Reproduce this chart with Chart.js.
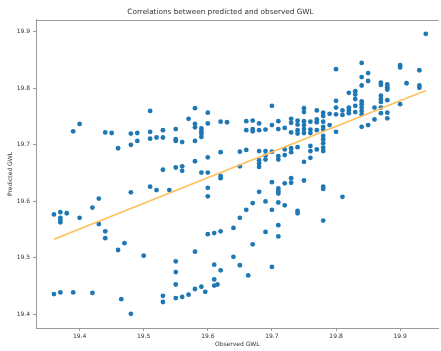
<!DOCTYPE html>
<html>
<head>
<meta charset="utf-8">
<title>Correlations between predicted and observed GWL</title>
<script src="https://cdn.jsdelivr.net/npm/chart.js@4.4.1/dist/chart.umd.min.js"></script>
<style>
  body { margin: 0; background: #fff; }
  #wrap { width: 441px; height: 351px; }
</style>
</head>
<body>
<div id="wrap"><canvas id="gwlChart" width="441" height="351"></canvas></div>
<script>
// observed GWL (x) and predicted GWL (y)
const observed = [
  19.36, 19.37, 19.37, 19.37, 19.37, 19.38, 19.40, 19.36, 19.37, 19.39, 19.42,
  19.39, 19.40, 19.42, 19.43, 19.43, 19.44, 19.44, 19.46, 19.47, 19.50, 19.465, 19.48,
  19.44, 19.45, 19.46, 19.48, 19.49, 19.48, 19.49, 19.48,
  19.51, 19.51, 19.51, 19.52, 19.53, 19.53, 19.51, 19.52, 19.54, 19.53,
  19.55, 19.55, 19.55, 19.56, 19.55, 19.56, 19.56, 19.57,
  19.58, 19.58, 19.58, 19.58, 19.58, 19.59, 19.59, 19.59, 19.59,
  19.60, 19.60, 19.60, 19.59, 19.60, 19.62, 19.63, 19.62, 19.62, 19.62, 19.60, 19.60,
  19.53, 19.53, 19.55, 19.55, 19.55, 19.55, 19.56, 19.57, 19.58, 19.59, 19.596,
  19.58, 19.60, 19.61, 19.62, 19.61, 19.62, 19.61, 19.61, 19.615,
  19.64, 19.65, 19.64, 19.65, 19.663, 19.67, 19.66, 19.67, 19.69, 19.71, 19.72, 19.70,
  19.74, 19.74, 19.69, 19.71, 19.71, 19.70, 19.78,
  19.65, 19.65, 19.66, 19.68, 19.68, 19.68, 19.68, 19.69, 19.69, 19.69, 19.70,
  19.71, 19.71, 19.72, 19.72, 19.73, 19.73, 19.74, 19.75, 19.76, 19.76, 19.76, 19.77,
  19.78, 19.78, 19.78, 19.78, 19.78,
  19.66, 19.67, 19.67, 19.67, 19.66, 19.68, 19.68, 19.69, 19.70, 19.71, 19.71, 19.72,
  19.73, 19.73, 19.74, 19.74, 19.75, 19.75, 19.76, 19.77, 19.77,
  19.78, 19.78, 19.78, 19.78, 19.78, 19.79, 19.79, 19.80,
  19.73, 19.74, 19.74, 19.75, 19.75, 19.76, 19.76, 19.77, 19.75, 19.75, 19.70, 19.77,
  19.94, 19.84, 19.80, 19.90, 19.90, 19.93, 19.84, 19.85, 19.85, 19.84,
  19.87, 19.87, 19.88, 19.88, 19.88, 19.91, 19.93, 19.93,
  19.82, 19.83, 19.83, 19.83, 19.84, 19.84, 19.84, 19.84, 19.84,
  19.87, 19.87, 19.87, 19.88, 19.90, 19.80, 19.83, 19.86, 19.87, 19.83,
  19.82, 19.82, 19.82, 19.81, 19.81, 19.80, 19.80,
  19.87, 19.88, 19.88, 19.86, 19.85, 19.84,
  19.70, 19.72, 19.73, 19.73, 19.75, 19.78, 19.78, 19.81, 19.68, 19.71, 19.71, 19.71
];
const predicted = [
  19.577, 19.581, 19.571, 19.567, 19.563, 19.579, 19.571, 19.436, 19.439, 19.439, 19.438,
  19.724, 19.737, 19.589, 19.605, 19.560, 19.547, 19.535, 19.514, 19.526, 19.504, 19.427, 19.401,
  19.722, 19.721, 19.694, 19.720, 19.721, 19.700, 19.707, 19.616,
  19.760, 19.723, 19.711, 19.713, 19.713, 19.726, 19.626, 19.620, 19.620, 19.656,
  19.728, 19.710, 19.707, 19.705, 19.660, 19.662, 19.654, 19.746,
  19.765, 19.737, 19.731, 19.707, 19.671, 19.729, 19.724, 19.720, 19.714,
  19.757, 19.738, 19.678, 19.651, 19.651, 19.741, 19.740, 19.687, 19.645, 19.641, 19.624, 19.609,
  19.433, 19.422, 19.494, 19.475, 19.453, 19.429, 19.431, 19.435, 19.445, 19.449, 19.440,
  19.511, 19.542, 19.544, 19.547, 19.488, 19.478, 19.462, 19.451, 19.453,
  19.553, 19.571, 19.502, 19.487, 19.469, 19.524, 19.585, 19.597, 19.600, 19.598, 19.593, 19.585,
  19.583, 19.579, 19.546, 19.558, 19.538, 19.484, 19.566,
  19.688, 19.662, 19.691, 19.689, 19.673, 19.667, 19.661, 19.689, 19.681, 19.674, 19.688,
  19.680, 19.674, 19.692, 19.682, 19.694, 19.687, 19.696, 19.670, 19.698, 19.689, 19.677, 19.692,
  19.716, 19.710, 19.703, 19.695, 19.689,
  19.742, 19.743, 19.728, 19.724, 19.726, 19.738, 19.726, 19.727, 19.735, 19.742, 19.728, 19.730,
  19.746, 19.739, 19.743, 19.736, 19.742, 19.735, 19.741, 19.745, 19.726,
  19.757, 19.751, 19.741, 19.732, 19.727, 19.735, 19.755, 19.723,
  19.722, 19.726, 19.720, 19.728, 19.721, 19.727, 19.721, 19.761, 19.765, 19.758, 19.769, 19.740,
  19.8965, 19.845, 19.834, 19.841, 19.837, 19.832, 19.820, 19.827, 19.813, 19.805,
  19.810, 19.806, 19.807, 19.802, 19.798, 19.809, 19.805, 19.801,
  19.792, 19.795, 19.789, 19.781, 19.777, 19.772, 19.766, 19.760, 19.754,
  19.787, 19.781, 19.776, 19.779, 19.772, 19.778, 19.769, 19.766, 19.766, 19.758,
  19.766, 19.761, 19.756, 19.761, 19.753, 19.766, 19.754,
  19.756, 19.757, 19.747, 19.745, 19.735, 19.732,
  19.634, 19.632, 19.641, 19.633, 19.637, 19.626, 19.622, 19.608, 19.617, 19.623, 19.618, 19.614
];

// fitted line end points
const fitX = [19.36, 19.94];
const fitY = [19.533, 19.796];

const xTicks = [19.4, 19.5, 19.6, 19.7, 19.8, 19.9];
const yTicks = [19.4, 19.5, 19.6, 19.7, 19.8, 19.9];

const textColor = '#333';
const axisColor = '#999';
const fontFamily = "'DejaVu Sans', sans-serif";

// top spine (matplotlib box)
const frameBox = {
  id: 'frameBox',
  afterDraw(chart) {
    const { ctx, chartArea } = chart;
    ctx.save();
    ctx.strokeStyle = axisColor;
    ctx.lineWidth = 1;
    ctx.beginPath();
    ctx.moveTo(chartArea.left, chartArea.top + 0.5);
    ctx.lineTo(chartArea.right, chartArea.top + 0.5);
    ctx.stroke();
    ctx.restore();
  }
};

const points = observed.map((x, i) => ({ x: x, y: predicted[i] }));
const fitLine = fitX.map((x, i) => ({ x: x, y: fitY[i] }));

const ctx = document.getElementById('gwlChart').getContext('2d');
const gwlChart = new Chart(ctx, {
  type: 'scatter',
  data: {
    datasets: [
      {
        label: 'fit',
        type: 'line',
        data: fitLine,
        borderColor: '#ffbf5a',
        borderWidth: 1.6,
        pointRadius: 0,
        fill: false,
        order: 1
      },
      {
        label: 'GWL',
        data: points,
        backgroundColor: '#1f77b4',
        borderWidth: 0,
        pointRadius: 2.4,
        pointHoverRadius: 2.4,
        order: 2
      }
    ]
  },
  plugins: [frameBox],
  options: {
    responsive: false,
    animation: false,
    events: [],
    layout: { padding: 0 },
    plugins: {
      legend: { display: false },
      tooltip: { enabled: false },
      title: {
        display: true,
        text: 'Correlations between predicted and observed GWL',
        color: textColor,
        font: { family: fontFamily, size: 7.3, weight: 'normal' },
        padding: { top: 8, bottom: 3.2 }
      }
    },
    scales: {
      x: {
        type: 'linear',
        min: 19.332,
        max: 19.96,
        afterFit: (scale) => { scale.height = 23; },
        afterBuildTicks: (scale) => { scale.ticks = xTicks.map(v => ({ value: v })); },
        grid: { drawOnChartArea: false, drawTicks: true, tickLength: 3, color: axisColor },
        border: { display: true, color: axisColor },
        ticks: {
          color: textColor,
          font: { family: fontFamily, size: 6 },
          padding: 1.5,
          maxRotation: 0,
          callback: (v) => v.toFixed(1)
        },
        title: {
          display: true,
          text: 'Observed GWL',
          color: textColor,
          font: { family: fontFamily, size: 6 },
          padding: { top: 0, bottom: 3 }
        }
      },
      y: {
        type: 'linear',
        min: 19.376,
        max: 19.921,
        afterFit: (scale) => { scale.width = 36; },
        afterBuildTicks: (scale) => { scale.ticks = yTicks.map(v => ({ value: v })); },
        grid: { drawOnChartArea: false, drawTicks: true, tickLength: 3, color: axisColor },
        border: { display: true, color: axisColor },
        ticks: {
          color: textColor,
          font: { family: fontFamily, size: 6 },
          padding: 3,
          callback: (v) => v.toFixed(1)
        },
        title: {
          display: true,
          text: 'Predicted GWL',
          color: textColor,
          font: { family: fontFamily, size: 6 },
          padding: { top: 6.4, bottom: 0 }
        }
      }
    }
  }
});
</script>
</body>
</html>
